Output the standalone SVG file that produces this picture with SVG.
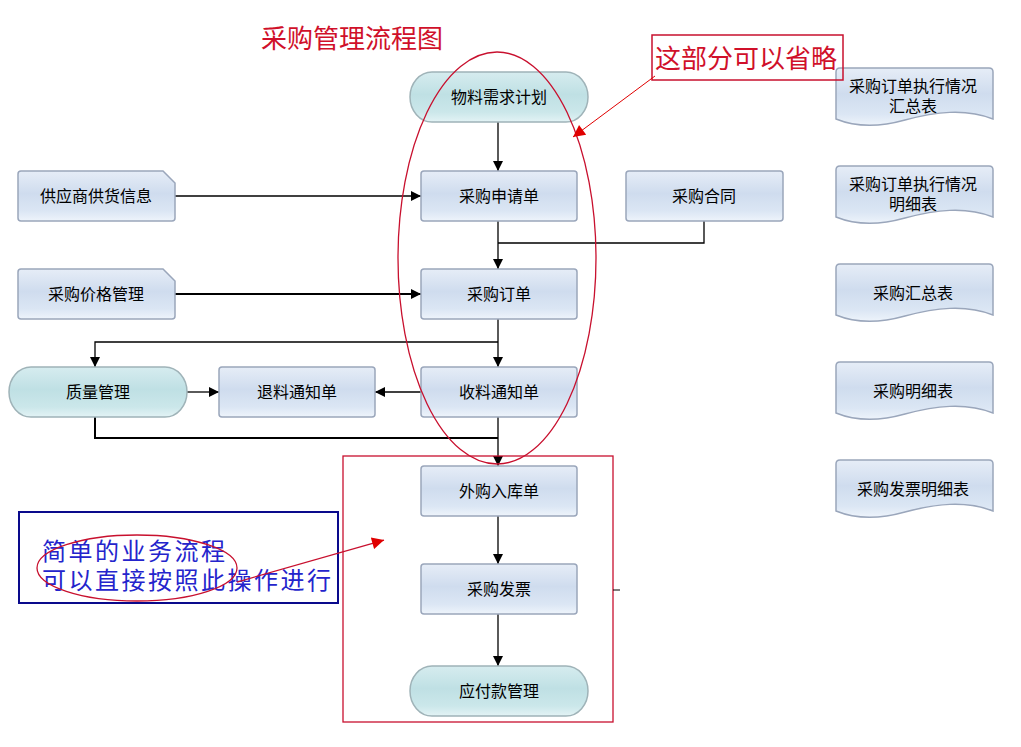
<svg xmlns="http://www.w3.org/2000/svg" width="1021" height="747" viewBox="0 0 1021 747">
<defs>
<linearGradient id="gBox" x1="0" y1="0" x2="0" y2="1">
<stop offset="0" stop-color="#e6edf7"/>
<stop offset="0.45" stop-color="#cfdcee"/>
<stop offset="0.8" stop-color="#dbe6f4"/>
<stop offset="1" stop-color="#eef4fb"/>
</linearGradient>
<linearGradient id="gTerm" x1="0" y1="0" x2="0" y2="1">
<stop offset="0" stop-color="#d6ecef"/>
<stop offset="0.45" stop-color="#bfe0e4"/>
<stop offset="0.8" stop-color="#cbe7ea"/>
<stop offset="1" stop-color="#e3f3f5"/>
</linearGradient>
<marker id="arr" viewBox="0 0 10 10" refX="10" refY="5" markerWidth="10" markerHeight="10" markerUnits="userSpaceOnUse" orient="auto">
<path d="M0,0 L10,5 L0,10 Z" fill="#000"/>
</marker>
<marker id="arrR" viewBox="0 0 10 10" refX="10" refY="5" markerWidth="14" markerHeight="12" markerUnits="userSpaceOnUse" orient="auto">
<path d="M0,0 L10,5 L0,10 Z" fill="#e00000"/>
</marker>
</defs>
<style>
.box{fill:url(#gBox);stroke:#9aa6bb;stroke-width:1.5}
.term{fill:url(#gTerm);stroke:#9fb3b8;stroke-width:1.5}
.lbl{font-family:"Liberation Sans","Noto Sans CJK SC",sans-serif;font-size:16px;fill:#000;text-anchor:middle}
.ln{fill:none;stroke:#000;stroke-width:1.3}
.thick{stroke-width:2}
.red{fill:none;stroke:#c8102e;stroke-width:1.3}
.blue{font-family:"Liberation Sans","Noto Sans CJK SC",sans-serif;font-size:24px;letter-spacing:2.5px;fill:#2424cc}
</style>
<rect width="1021" height="747" fill="#fff"/>

<text x="261" y="48" font-family="Liberation Sans,Noto Sans CJK SC,sans-serif" font-size="26" fill="#d0102a">采购管理流程图</text>

<g id="connectors">
<line class="ln" x1="498" y1="122" x2="498" y2="171" marker-end="url(#arr)"/>
<line class="ln" x1="175" y1="196" x2="421" y2="196" marker-end="url(#arr)"/>
<line class="ln" x1="498" y1="221" x2="498" y2="269" marker-end="url(#arr)"/>
<polyline class="ln" points="704,221 704,243 498,243"/>
<line class="ln thick" x1="175" y1="294" x2="421" y2="294" marker-end="url(#arr)"/>
<line class="ln" x1="498" y1="319" x2="498" y2="367" marker-end="url(#arr)"/>
<polyline class="ln" points="498,342 95,342 95,367" marker-end="url(#arr)"/>
<line class="ln" x1="187" y1="392" x2="219" y2="392" marker-end="url(#arr)"/>
<line class="ln" x1="421" y1="392" x2="375" y2="392" marker-end="url(#arr)"/>
<polyline class="ln thick" points="95,417 95,438 498,438"/>
<line class="ln" x1="498" y1="417" x2="498" y2="466" marker-end="url(#arr)"/>
<line class="ln" x1="498" y1="516" x2="498" y2="564" marker-end="url(#arr)"/>
<line class="ln" x1="498" y1="614" x2="498" y2="666" marker-end="url(#arr)"/>
</g>

<g id="n_wlxq"><rect class="term" x="410" y="72" width="178" height="50" rx="22" ry="25"/><text class="lbl" x="499" y="103">物料需求计划</text></g>
<g id="n_cgsqd"><rect class="box" x="421" y="171" width="156" height="50" rx="3"/><text class="lbl" x="499" y="202">采购申请单</text></g>
<g id="n_cght"><rect class="box" x="626" y="171" width="157" height="50" rx="3"/><text class="lbl" x="704" y="202">采购合同</text></g>
<g id="n_gys"><path class="box" d="M21,171 H163 L175,183 V218 Q175,221 172,221 H21 Q18,221 18,218 V174 Q18,171 21,171 Z"/><text class="lbl" x="96" y="202">供应商供货信息</text></g>
<g id="n_jg"><path class="box" d="M21,269 H163 L175,281 V316 Q175,319 172,319 H21 Q18,319 18,316 V272 Q18,269 21,269 Z"/><text class="lbl" x="96" y="300">采购价格管理</text></g>
<g id="n_cgdd"><rect class="box" x="421" y="269" width="156" height="50" rx="3"/><text class="lbl" x="499" y="300">采购订单</text></g>
<g id="n_zl"><rect class="term" x="9" y="367" width="178" height="50" rx="22" ry="25"/><text class="lbl" x="98" y="398">质量管理</text></g>
<g id="n_tl"><rect class="box" x="219" y="367" width="156" height="50" rx="3"/><text class="lbl" x="297" y="398">退料通知单</text></g>
<g id="n_sl"><rect class="box" x="421" y="367" width="156" height="50" rx="3"/><text class="lbl" x="499" y="398">收料通知单</text></g>
<g id="n_wg"><rect class="box" x="421" y="466" width="156" height="50" rx="3"/><text class="lbl" x="499" y="497">外购入库单</text></g>
<g id="n_fp"><rect class="box" x="421" y="564" width="156" height="50" rx="3"/><text class="lbl" x="499" y="595">采购发票</text></g>
<g id="n_yf"><rect class="term" x="410" y="666" width="178" height="50" rx="22" ry="25"/><text class="lbl" x="499" y="697">应付款管理</text></g>

<g id="r1"><path class="box" d="M840,68 H989 Q993,68 993,72 V119 C965,108 935,112 905,120 C880,127 858,128 836,119 V72 Q836,68 840,68 Z"/><text class="lbl" x="913" y="92">采购订单执行情况<tspan x="913" dy="20">汇总表</tspan></text></g>
<g id="r2"><path class="box" d="M840,166 H989 Q993,166 993,170 V217 C965,206 935,210 905,218 C880,225 858,226 836,217 V170 Q836,166 840,166 Z"/><text class="lbl" x="913" y="190">采购订单执行情况<tspan x="913" dy="20">明细表</tspan></text></g>
<g id="r3"><path class="box" d="M840,264 H989 Q993,264 993,268 V315 C965,304 935,308 905,316 C880,323 858,324 836,315 V268 Q836,264 840,264 Z"/><text class="lbl" x="913" y="299">采购汇总表</text></g>
<g id="r4"><path class="box" d="M840,362 H989 Q993,362 993,366 V413 C965,402 935,406 905,414 C880,421 858,422 836,413 V366 Q836,362 840,362 Z"/><text class="lbl" x="913" y="397">采购明细表</text></g>
<g id="r5"><path class="box" d="M840,460 H989 Q993,460 993,464 V511 C965,500 935,504 905,512 C880,519 858,520 836,511 V464 Q836,460 840,460 Z"/><text class="lbl" x="913" y="495">采购发票明细表</text></g>

<g id="annot_top">
<ellipse class="red" cx="497" cy="258" rx="99" ry="206"/>
<rect x="652" y="35" width="191" height="45" fill="none" stroke="#c8102e" stroke-width="1.5"/>
<text x="655" y="68" font-family="Liberation Sans,Noto Sans CJK SC,sans-serif" font-size="26" fill="#d0102a">这部分可以省略</text>
<line x1="655" y1="76" x2="573" y2="137" stroke="#e00000" stroke-width="1" marker-end="url(#arrR)"/>
</g>

<g id="annot_bottom">
<rect x="343" y="456" width="270" height="266" fill="none" stroke="#c8102e" stroke-width="1.3"/>
<line x1="613" y1="590" x2="620" y2="590" stroke="#000" stroke-width="1"/>
<rect x="19" y="512" width="319" height="91" fill="none" stroke="#0a0a8c" stroke-width="2"/>
<text class="blue" x="42" y="560">简单的业务流程<tspan x="42" dy="29">可以直接按照此操作进行</tspan></text>
<ellipse class="red" cx="137" cy="568" rx="100" ry="33"/>
<line x1="237" y1="582" x2="384" y2="540" stroke="#c8102e" stroke-width="1.3" marker-end="url(#arrR)"/>
</g>
</svg>
